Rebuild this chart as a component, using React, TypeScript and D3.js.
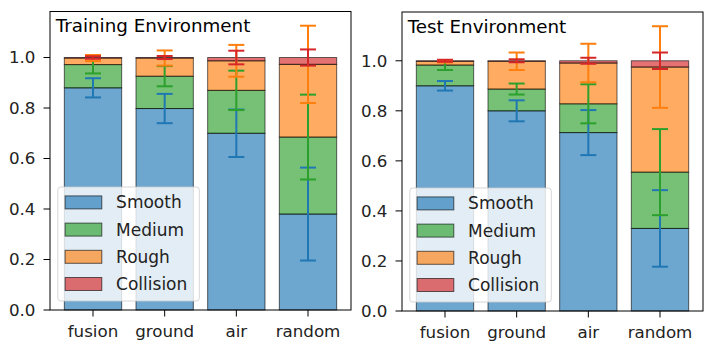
import React from "react";
import * as d3 from "d3";

const categories = ["fusion", "ground", "air", "random"];
const levels = ["Smooth", "Medium", "Rough", "Collision"];
const colors = ["#1f77b4", "#2ca02c", "#ff7f0e", "#d62728"];
const yTicks = [0, 0.2, 0.4, 0.6, 0.8, 1.0];

// training environment: share of each terrain level per method
const trainSmooth = [0.88, 0.798, 0.7, 0.38];
const trainMedium = [0.092, 0.128, 0.17, 0.305];
const trainRough = [0.026, 0.072, 0.117, 0.288];
const trainCollision = [0.002, 0.002, 0.013, 0.027];
const trainSmoothErr = [0.038, 0.058, 0.094, 0.184];
const trainMediumErr = [0.035, 0.04, 0.078, 0.168];
const trainRoughErr = [0.012, 0.03, 0.063, 0.153];
const trainCollisionErr = [0.005, 0.006, 0.027, 0.032];

// test environment
const testSmooth = [0.9, 0.8, 0.713, 0.33];
const testMedium = [0.083, 0.087, 0.115, 0.225];
const testRough = [0.015, 0.111, 0.163, 0.42];
const testCollision = [0.002, 0.002, 0.009, 0.025];
const testSmoothErr = [0.019, 0.042, 0.09, 0.153];
const testMediumErr = [0.02, 0.022, 0.078, 0.172];
const testRoughErr = [0.005, 0.035, 0.077, 0.163];
const testCollisionErr = [0.004, 0.006, 0.012, 0.033];

const font = "DejaVu Sans, sans-serif";
const tickSize = 16.7;

type PanelProps = {
  title: string;
  left: number;
  right: number;
  top: number;
  bottom: number;
  means: number[][];
  errs: number[][];
};

function Panel({ title, left, right, top, bottom, means, errs }: PanelProps) {
  // stack the layers
  const stacks = means.map((_, li) =>
    categories.map((_, ci) => {
      const y0 = d3.sum(means.slice(0, li), (m) => m[ci]);
      return { y0, y1: y0 + means[li][ci], err: errs[li][ci] };
    })
  );
  const maxTop = d3.max(stacks.flat(), (d) => d.y1 + d.err) as number;

  const x = d3.scaleLinear().domain([-0.6, categories.length - 0.4]).range([left, right]);
  const y = d3.scaleLinear().domain([0, maxTop * 1.05]).range([bottom, top]);

  const legendX = left + 7.8;
  const legendH = 114;
  const legendY = bottom - 9 - legendH;

  return (
    <g>
      {stacks.map((layer, li) =>
        layer.map((d, ci) => (
          <rect
            key={`b${li}-${ci}`}
            x={x(ci - 0.4)}
            width={x(ci + 0.4) - x(ci - 0.4)}
            y={y(d.y1)}
            height={y(d.y0) - y(d.y1)}
            fill={colors[li]}
            fillOpacity={0.65}
            stroke="#000"
            strokeOpacity={0.6}
            strokeWidth={1}
          />
        ))
      )}
      {stacks.map((layer, li) =>
        layer.map((d, ci) => {
          const cx = x(ci);
          const hi = y(d.y1 + d.err);
          const lo = y(d.y1 - d.err);
          return (
            <g key={`e${li}-${ci}`} stroke={colors[li]} strokeWidth={2}>
              <line x1={cx} x2={cx} y1={hi} y2={lo} />
              <line x1={cx - 8} x2={cx + 8} y1={hi} y2={hi} />
              <line x1={cx - 8} x2={cx + 8} y1={lo} y2={lo} />
            </g>
          );
        })
      )}
      <rect
        x={left}
        y={top}
        width={right - left}
        height={bottom - top}
        fill="none"
        stroke="#000"
        strokeWidth={1}
      />
      {yTicks.map((t) => (
        <g key={`y${t}`}>
          <line x1={left - 6.5} x2={left} y1={y(t)} y2={y(t)} stroke="#000" />
          <text
            x={left - 14.5}
            y={y(t)}
            dy="0.35em"
            textAnchor="end"
            fontFamily={font}
            fontSize={tickSize}
            fill="#222"
          >
            {d3.format(".1f")(t)}
          </text>
        </g>
      ))}
      {categories.map((c, ci) => (
        <g key={`x${c}`}>
          <line x1={x(ci)} x2={x(ci)} y1={bottom} y2={bottom + 6.5} stroke="#000" />
          <text
            x={x(ci)}
            y={bottom + 26.5}
            textAnchor="middle"
            fontFamily={font}
            fontSize={tickSize}
            fill="#222"
          >
            {c}
          </text>
        </g>
      ))}
      <text x={left + 5.7} y={top + 20.8} fontFamily={font} fontSize={18.3} fill="#000">
        {title}
      </text>
      <g>
        <rect
          x={legendX}
          y={legendY}
          width={141.5}
          height={legendH}
          rx={3}
          fill="#fff"
          fillOpacity={0.8}
          stroke="#ccc"
          strokeOpacity={0.8}
        />
        {levels.map((lv, li) => {
          const cy = legendY + 15.4 + li * 27.2;
          return (
            <g key={`l${lv}`}>
              <rect
                x={legendX + 7.3}
                y={cy - 6.5}
                width={36.7}
                height={13}
                fill={colors[li]}
                fillOpacity={0.65}
                stroke="#000"
                strokeOpacity={0.6}
              />
              <text
                x={legendX + 58.3}
                y={cy}
                dy="0.35em"
                fontFamily={font}
                fontSize={17}
                fill="#222"
              >
                {lv}
              </text>
            </g>
          );
        })}
      </g>
    </g>
  );
}

export default function App() {
  const trainMeans = [trainSmooth, trainMedium, trainRough, trainCollision];
  const trainErrs = [trainSmoothErr, trainMediumErr, trainRoughErr, trainCollisionErr];
  const testMeans = [testSmooth, testMedium, testRough, testCollision];
  const testErrs = [testSmoothErr, testMediumErr, testRoughErr, testCollisionErr];

  return (
    <svg
      width={711}
      height={353}
      style={{ position: "absolute", left: 0, top: 0, background: "#fff" }}
    >
      <Panel
        title="Training Environment"
        left={50}
        right={351}
        top={11.5}
        bottom={310}
        means={trainMeans}
        errs={trainErrs}
      />
      <Panel
        title="Test Environment"
        left={402}
        right={703}
        top={12}
        bottom={311}
        means={testMeans}
        errs={testErrs}
      />
    </svg>
  );
}
